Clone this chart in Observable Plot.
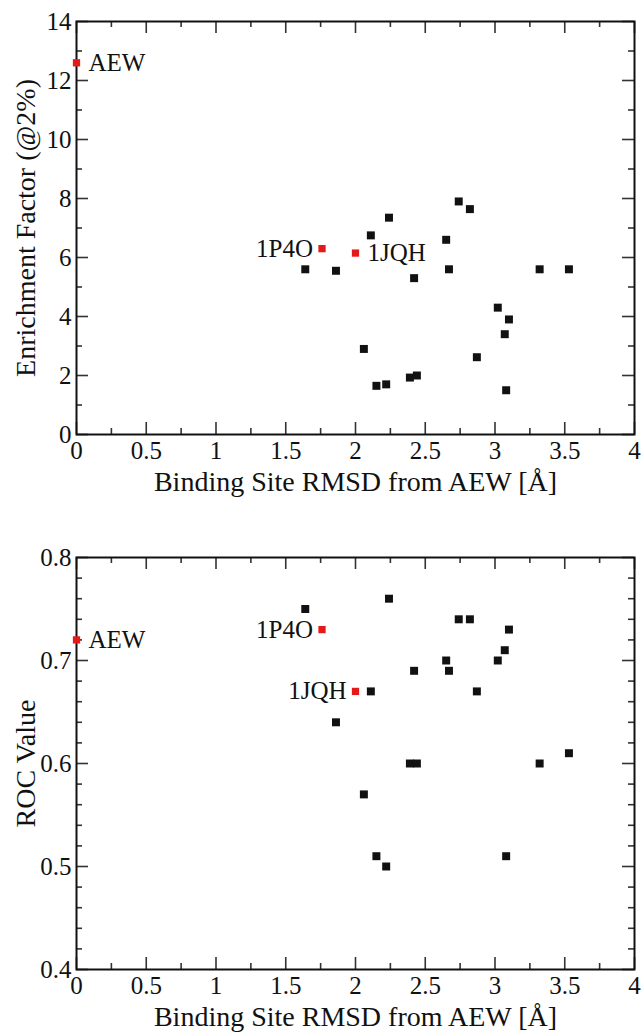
<!DOCTYPE html>
<html>
<head>
<meta charset="utf-8">
<script src="https://cdn.jsdelivr.net/npm/d3@7"></script>
<script src="https://cdn.jsdelivr.net/npm/@observablehq/plot@0.6"></script>
<style>
  html, body { margin: 0; padding: 0; background: #fff; }
  #wrap { position: relative; width: 641px; height: 1032px; overflow: hidden; }
  #top, #bottom { position: absolute; left: 0; }
  #top { top: 0; }
  #bottom { top: 500px; }
  #panel { position: absolute; left: 12px; top: 501px; font: bold 30px/30px "Liberation Sans", Arial, sans-serif; color: #111; }
</style>
</head>
<body>
<div id="wrap">
  <div id="top"></div>
  <div id="panel">a</div>
  <div id="bottom"></div>
</div>
<script>
// ---- data ----
const rmsd = [1.64, 1.86, 2.06, 2.11, 2.15, 2.22, 2.24, 2.39, 2.42, 2.44, 2.65, 2.67, 2.74, 2.82, 2.87, 3.02, 3.07, 3.08, 3.10, 3.32, 3.53];
const enrichment = [5.6, 5.55, 2.9, 6.75, 1.65, 1.7, 7.35, 1.93, 5.3, 2.0, 6.6, 5.6, 7.9, 7.64, 2.62, 4.3, 3.4, 1.5, 3.9, 5.6, 5.6];
const roc = [0.75, 0.64, 0.57, 0.67, 0.51, 0.50, 0.76, 0.60, 0.69, 0.60, 0.70, 0.69, 0.74, 0.74, 0.67, 0.70, 0.71, 0.51, 0.73, 0.60, 0.61];
const refNames = ["AEW", "1P4O", "1JQH"];
const refRmsd = [0, 1.76, 2.0];
const refEnrichment = [12.6, 6.3, 6.15];
const refRoc = [0.72, 0.73, 0.67];
const xMajor = [0, 0.5, 1, 1.5, 2, 2.5, 3, 3.5, 4];
const xMinor = [0.25, 0.75, 1.25, 1.75, 2.25, 2.75, 3.25, 3.75];
const efMajor = [0, 2, 4, 6, 8, 10, 12, 14];
const efMinor = [1, 3, 5, 7, 9, 11, 13];
const rocMajor = [0.4, 0.5, 0.6, 0.7, 0.8];
const rocMinor = [0.42, 0.44, 0.46, 0.48, 0.52, 0.54, 0.56, 0.58, 0.62, 0.64, 0.66, 0.68, 0.72, 0.74, 0.76, 0.78];
const xTitle = "Binding Site RMSD from AEW [Å]";
const efTitle = "Enrichment Factor (@2%)";
const rocTitle = "ROC Value";
// label placement for reference structures: side of the point
const refSideTop = ["right", "left", "right"];
const refSideBottom = ["right", "left", "left"];

const serif = '"Liberation Serif", "Times New Roman", serif';
const others = rmsd.map((x, i) => ({x, ef: enrichment[i], roc: roc[i]}));
const refs = refNames.map((name, i) => ({name, x: refRmsd[i], ef: refEnrichment[i], roc: refRoc[i], sideTop: refSideTop[i], sideBottom: refSideBottom[i]}));
const fmt = d => String(+d.toFixed(2));

const W = 641, ML = 76, MR = 7;
const PW = W - ML - MR;
const MAJ = 12, MIN = 6;

function frameTicks(yMajor, yMinor, PH) {
  const t = {stroke: "#333", strokeWidth: 1.6};
  return [
    // short inward ticks on all four sides of the frame
    Plot.tickX(xMajor, {x: d => d, insetTop: PH - MAJ, ...t}),
    Plot.tickX(xMinor, {x: d => d, insetTop: PH - MIN, ...t}),
    Plot.tickX(xMajor, {x: d => d, insetBottom: PH - MAJ, ...t}),
    Plot.tickX(xMinor, {x: d => d, insetBottom: PH - MIN, ...t}),
    Plot.tickY(yMajor, {y: d => d, insetRight: PW - MAJ, ...t}),
    Plot.tickY(yMinor, {y: d => d, insetRight: PW - MIN, ...t}),
    Plot.tickY(yMajor, {y: d => d, insetLeft: PW - MAJ, ...t}),
    Plot.tickY(yMinor, {y: d => d, insetLeft: PW - MIN, ...t}),
    // tick labels
    Plot.text(xMajor, {x: d => d, text: fmt, frameAnchor: "bottom", lineAnchor: "top", dy: 7, fontSize: 25, fontFamily: serif, fill: "#111"}),
    Plot.text(yMajor, {y: d => d, text: fmt, frameAnchor: "left", textAnchor: "end", lineAnchor: "middle", dx: -5, fontSize: 25, fontFamily: serif, fill: "#111"}),
    Plot.frame({stroke: "#111", strokeWidth: 2})
  ];
}

function panel({yKey, yDomain, yMajor, yMinor, yTitle, height, marginTop, marginBottom, side}) {
  const PH = height - marginTop - marginBottom;
  return Plot.plot({
    width: W,
    height,
    marginLeft: ML,
    marginRight: MR,
    marginTop,
    marginBottom,
    style: {fontFamily: serif, fontSize: "25px", color: "#111", background: "#fff", overflow: "visible"},
    x: {domain: [0, 4], axis: null},
    y: {domain: yDomain, axis: null},
    marks: [
      ...frameTicks(yMajor, yMinor, PH),
      Plot.dot(others, {x: "x", y: yKey, symbol: "square", r: 4.5, fill: "#111", stroke: "none"}),
      Plot.dot(refs, {x: "x", y: yKey, symbol: "square", r: 4.1, fill: "#e41a1a", stroke: "none"}),
      Plot.text(refs.filter(d => d[side] === "right"), {x: "x", y: yKey, text: "name", textAnchor: "start", dx: 12, fontSize: 25, fontFamily: serif, fill: "#111"}),
      Plot.text(refs.filter(d => d[side] === "left"), {x: "x", y: yKey, text: "name", textAnchor: "end", dx: -9, fontSize: 25, fontFamily: serif, fill: "#111"}),
      Plot.text([xTitle], {frameAnchor: "bottom", textAnchor: "middle", lineAnchor: "bottom", dy: 56, fontSize: 28, fontFamily: serif, fill: "#111"}),
      Plot.text([yTitle], {frameAnchor: "left", textAnchor: "middle", lineAnchor: "middle", rotate: -90, dx: -50, fontSize: 28, fontFamily: serif, fill: "#111"})
    ]
  });
}

document.getElementById("top").append(panel({
  yKey: "ef", yDomain: [0, 14], yMajor: efMajor, yMinor: efMinor, yTitle: efTitle,
  height: 500, marginTop: 21, marginBottom: 66, side: "sideTop"
}));
document.getElementById("bottom").append(panel({
  yKey: "roc", yDomain: [0.4, 0.8], yMajor: rocMajor, yMinor: rocMinor, yTitle: rocTitle,
  height: 532, marginTop: 57, marginBottom: 63, side: "sideBottom"
}));
</script>
</body>
</html>
